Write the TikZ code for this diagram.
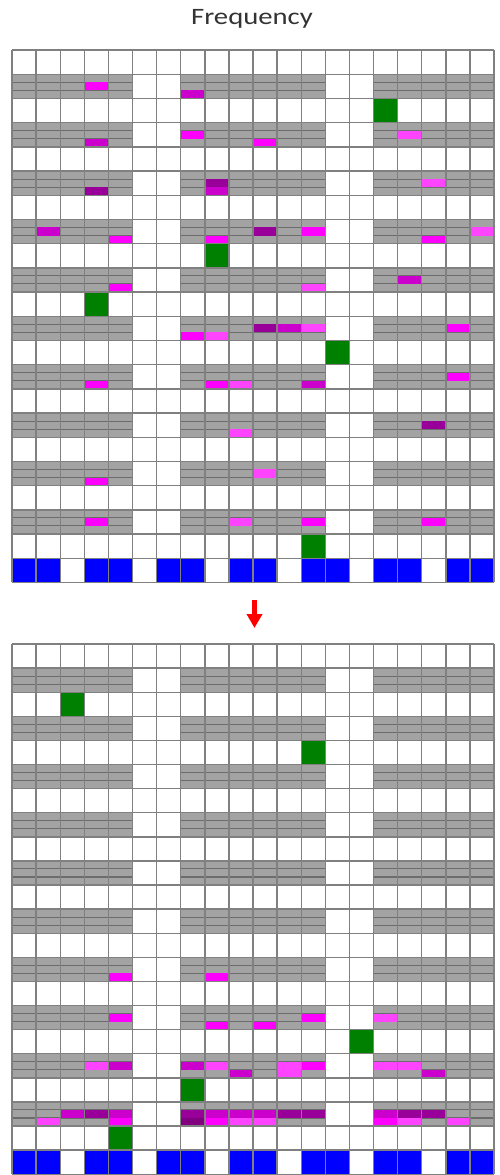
\documentclass[tikz,border=0pt]{standalone}
\usepackage{fontspec}
\newfontfamily\titlefont{Carlito}
\usetikzlibrary{arrows.meta}
\definecolor{gfill}{HTML}{A3A3A3}
\definecolor{gline}{HTML}{6C6C6C}
\definecolor{cline}{HTML}{808080}
\definecolor{mA}{HTML}{FF00FF}
\definecolor{mB}{HTML}{FF44FF}
\definecolor{mC}{HTML}{CC00CC}
\definecolor{mD}{HTML}{990099}
\definecolor{mE}{HTML}{800080}
\definecolor{grn}{HTML}{008000}
\definecolor{blu}{HTML}{0000FF}
\tikzset{
  cellline/.style={cline,line width=1.4pt},
  subline/.style={gline,line width=1.1pt},
  greencell/.style={fill=grn},
  bluecell/.style={fill=blu},
  titletext/.style={font=\titlefont\fontsize{23.5}{26}\selectfont,text=black!80,xscale=1.22,anchor=base},
  downarrow/.style={red,line width=5pt,-{Triangle[width=15pt,length=14pt]}}
}
\newcommand{\gridbase}{%
  \fill[white] (0,0) rectangle (20,22);
  \foreach \r in {1,3,...,19}{
    \foreach \a/\b in {0/5,7/13,15/20}{
      \fill[gfill] (\a,\r) rectangle (\b,{\r+1});
      \draw[subline] (\a,{\r+1/3}) -- (\b,{\r+1/3}) (\a,{\r+2/3}) -- (\b,{\r+2/3});
    }}
  \foreach \c in {0,1,3,4,6,7,9,10,12,13,15,16,18,19}{\fill[bluecell] (\c,21) rectangle ({\c+1},22);}
}
\newcommand{\gridlinesall}{%
  \foreach \c in {0,...,20}{\draw[cellline] (\c,0) -- (\c,22);}
  \foreach \r in {0,...,22}{\draw[cellline] (0,\r) -- (20,\r);}
}
\begin{document}
\begin{tikzpicture}[x=1pt,y=-1pt]
\useasboundingbox (0,0) rectangle (499,1175);
\fill[white] (0,0) rectangle (499,1175);
\node[titletext] (title) at (252,24) {Frequency};

% top grid
\begin{scope}[shift={(12,50)}]
\begin{scope}[x=24.1pt,y=-24.2pt]
\gridbase
\foreach \r/\c/\s/\col in {1/3/1/mA,1/7/2/mC,
  3/3/2/mC,3/7/1/mA,3/10/2/mA,3/16/1/mB,
  5/3/2/mD,5/8/1/mD,5/8/2/mC,5/17/1/mB,
  7/1/1/mC,7/4/2/mA,7/8/2/mA,7/10/1/mD,7/12/1/mA,7/17/2/mA,7/19/1/mB,
  9/4/2/mA,9/12/2/mB,9/16/1/mC,
  11/7/2/mA,11/8/2/mB,11/10/1/mD,11/11/1/mC,11/12/1/mB,11/18/1/mA,
  13/3/2/mA,13/8/2/mA,13/9/2/mB,13/12/2/mC,13/18/1/mA,
  15/9/2/mB,15/17/1/mD,
  17/3/2/mA,17/10/1/mB,
  19/3/1/mA,19/9/1/mB,19/12/1/mA,19/17/1/mA}{
  \fill[\col] (\c,{\r+\s/3}) rectangle ({\c+1},{\r+\s/3+1/3});}
\foreach \r/\c in {2/15,8/8,10/3,12/13,20/12}{
  \fill[greencell] (\c,\r) rectangle ({\c+1},{\r+1});}
\gridlinesall
\end{scope}
\end{scope}

% arrow
\coordinate (a1) at (254.5,600);
\coordinate (a2) at (254.5,628);
\draw[downarrow] (a1) -- (a2);

% bottom grid
\begin{scope}[shift={(12,644)}]
\begin{scope}[x=24.1pt,y=-24.1pt]
\gridbase
\foreach \r/\c/\s/\col in {13/4/2/mA,13/8/2/mA,
  15/4/1/mA,15/8/2/mA,15/10/2/mA,15/12/1/mA,15/15/1/mB,
  17/3/1/mB,17/4/1/mC,17/7/1/mC,17/8/1/mB,17/9/2/mC,17/11/1/mB,17/11/2/mB,17/12/1/mA,17/15/1/mB,17/16/1/mB,17/17/2/mC,
  19/1/2/mB,19/2/1/mC,19/3/1/mD,19/4/1/mC,19/4/2/mA,19/7/1/mD,19/7/2/mE,19/8/1/mC,19/8/2/mA,19/9/1/mC,19/9/2/mB,19/10/1/mC,19/10/2/mB,19/11/1/mD,19/12/1/mD,19/15/1/mC,19/15/2/mA,19/16/1/mD,19/16/2/mB,19/17/1/mD,19/18/2/mB}{
  \fill[\col] (\c,{\r+\s/3}) rectangle ({\c+1},{\r+\s/3+1/3});}
\foreach \r/\c in {2/2,4/12,16/14,18/7,20/4}{
  \fill[greencell] (\c,\r) rectangle ({\c+1},{\r+1});}
\gridlinesall
\end{scope}
\end{scope}
\end{tikzpicture}
\end{document}
